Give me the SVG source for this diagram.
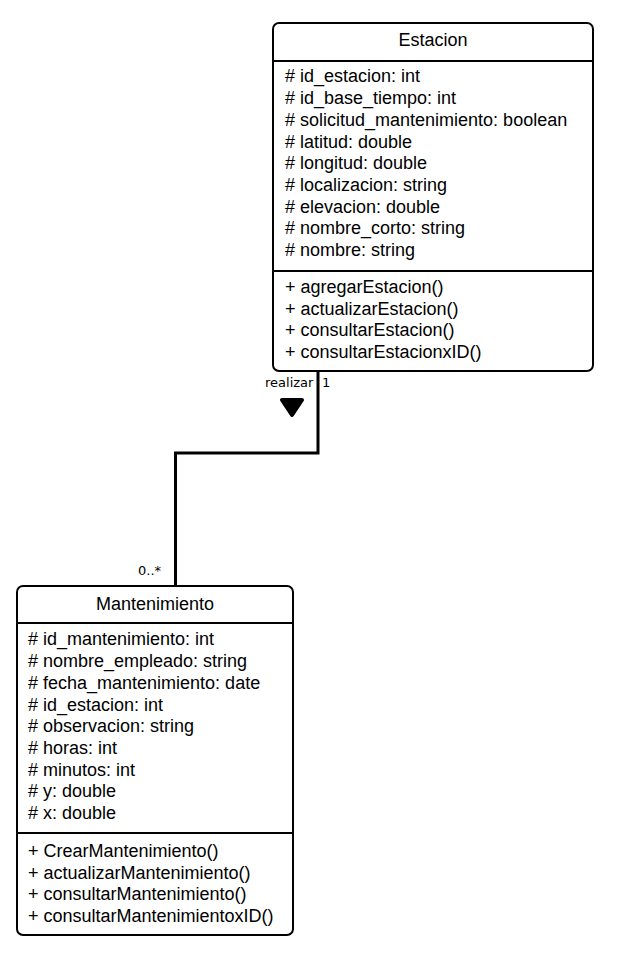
<svg xmlns="http://www.w3.org/2000/svg" width="635" height="953" viewBox="0 0 635 953">
  <style>
    .box { fill: #ffffff; stroke: #000000; stroke-width: 2; }
    .div { stroke: #000000; stroke-width: 2; }
    .title { font-family: "Liberation Sans", Arial, sans-serif; font-size: 18px; fill: #000; text-anchor: middle; }
    .member { font-family: "Liberation Sans", Arial, sans-serif; font-size: 18px; fill: #000; }
    .lbl { font-family: "DejaVu Sans", Tahoma, sans-serif; font-size: 13px; fill: #000; }
    .conn { fill: none; stroke: #000000; stroke-width: 3; }
  </style>
  <rect width="635" height="953" fill="#ffffff"/>

  <!-- association -->
  <g id="connectors">
    <polyline class="conn" points="318,372 318,453 175.5,453 175.5,586"/>
    <polygon points="282,400 302,400 292,415" fill="#000" stroke="#000" stroke-width="4" stroke-linejoin="round"/>
    <text class="lbl" x="265" y="387">realizar</text>
    <text class="lbl" x="322" y="387">1</text>
    <text class="lbl" x="138" y="575">0..*</text>
  </g>

  <!-- class Estacion -->
  <g id="estacion">
    <rect class="box" x="273" y="23" width="320" height="348" rx="6"/>
    <line class="div" x1="273" y1="61" x2="593" y2="61"/>
    <line class="div" x1="273" y1="271" x2="593" y2="271"/>
    <text class="title" x="433" y="46">Estacion</text>
    <text class="member" x="285" y="82"># id_estacion: int</text>
    <text class="member" x="285" y="104"># id_base_tiempo: int</text>
    <text class="member" x="285" y="126"># solicitud_mantenimiento: boolean</text>
    <text class="member" x="285" y="147.5"># latitud: double</text>
    <text class="member" x="285" y="169"># longitud: double</text>
    <text class="member" x="285" y="191"># localizacion: string</text>
    <text class="member" x="285" y="212.5"># elevacion: double</text>
    <text class="member" x="285" y="234"># nombre_corto: string</text>
    <text class="member" x="285" y="256"># nombre: string</text>
    <text class="member" x="285" y="293">+ agregarEstacion()</text>
    <text class="member" x="285" y="315">+ actualizarEstacion()</text>
    <text class="member" x="285" y="336">+ consultarEstacion()</text>
    <text class="member" x="285" y="358">+ consultarEstacionxID()</text>
  </g>

  <!-- class Mantenimiento -->
  <g id="mantenimiento">
    <rect class="box" x="17" y="586" width="276" height="349" rx="6"/>
    <line class="div" x1="17" y1="623" x2="293" y2="623"/>
    <line class="div" x1="17" y1="833" x2="293" y2="833"/>
    <text class="title" x="155" y="610">Mantenimiento</text>
    <text class="member" x="28" y="645"># id_mantenimiento: int</text>
    <text class="member" x="28" y="667"># nombre_empleado: string</text>
    <text class="member" x="28" y="689"># fecha_mantenimiento: date</text>
    <text class="member" x="28" y="711"># id_estacion: int</text>
    <text class="member" x="28" y="732"># observacion: string</text>
    <text class="member" x="28" y="754"># horas: int</text>
    <text class="member" x="28" y="776"># minutos: int</text>
    <text class="member" x="28" y="797"># y: double</text>
    <text class="member" x="28" y="819"># x: double</text>
    <text class="member" x="28" y="857">+ CrearMantenimiento()</text>
    <text class="member" x="28" y="879">+ actualizarMantenimiento()</text>
    <text class="member" x="28" y="900">+ consultarMantenimiento()</text>
    <text class="member" x="28" y="922">+ consultarMantenimientoxID()</text>
  </g>
</svg>
